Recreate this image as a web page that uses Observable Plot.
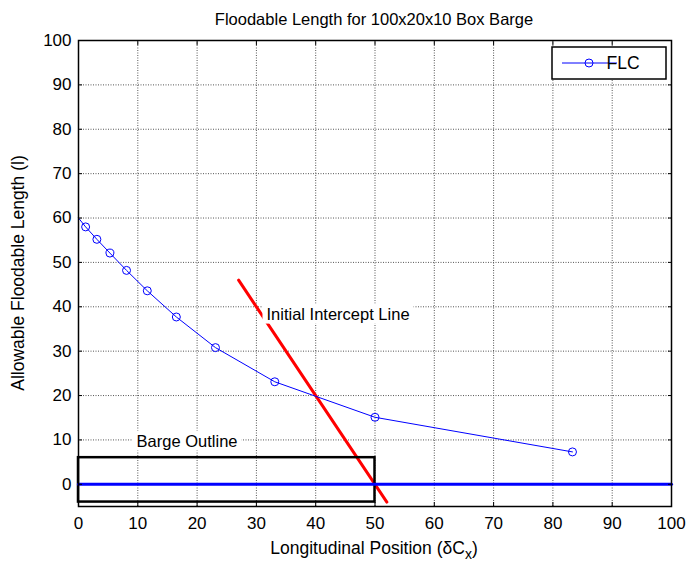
<!DOCTYPE html>
<html><head><meta charset="utf-8">
<script src="https://cdn.jsdelivr.net/npm/d3@7"></script>
<script src="https://cdn.jsdelivr.net/npm/@observablehq/plot@0.6"></script>
<style>
body{margin:0;background:#fff;}
#chart{position:relative;width:688px;height:562px;}
</style>
</head><body><div id="chart"></div>
<script>
// ---- data ----
const xTicks = [0, 10, 20, 30, 40, 50, 60, 70, 80, 90, 100];
const yTicks = [0, 10, 20, 30, 40, 50, 60, 70, 80, 90, 100];
const flcX = [0, 1.2, 3.1, 5.3, 8.1, 11.6, 16.5, 23.1, 33.1, 50, 83.3];
const flcY = [60, 58, 55.2, 52.1, 48.2, 43.6, 37.7, 30.8, 23.1, 15.1, 7.3];
const flcMarker = [false, true, true, true, true, true, true, true, true, true, true];
const interceptX = [27, 52];
const interceptY = [46, -4];
const bargeX = [0, 50];
const bargeY = [-4, 6];
const waterX = [0, 100];
const waterY = [0, 0];
const labelText = ["Initial Intercept Line", "Barge Outline"];
const labelX = [31.7, 9.8];
const labelY = [38.3, 9.7];
const seriesName = "FLC";
const titleText = "Floodable Length for 100x20x10 Box Barge";
const yLabelText = "Allowable Floodable Length (l)";

// ---- tables ----
const flc = flcX.map((x, i) => ({x, y: flcY[i], m: flcMarker[i]}));
const intercept = interceptX.map((x, i) => ({x, y: interceptY[i]}));
const water = waterX.map((x, i) => ({x, y: waterY[i]}));
const barge = [{x1: bargeX[0], x2: bargeX[1], y1: bargeY[0], y2: bargeY[1]}];
const labels = labelText.map((t, i) => ({t, x: labelX[i], y: labelY[i]}));

const font = "'Liberation Sans', Arial, sans-serif";
const gridStyle = {stroke: "#444", strokeOpacity: 0.9, strokeWidth: 1, strokeDasharray: "1,1.5"};

const chart = Plot.plot({
  width: 688, height: 562,
  marginLeft: 78, marginRight: 17, marginTop: 40, marginBottom: 56,
  style: {fontFamily: font, fontSize: "17px", color: "#000", background: "#fff"},
  x: {domain: [0, 100]},
  y: {domain: [-5, 100]},
  marks: [
    Plot.gridX(xTicks, gridStyle),
    Plot.gridY(yTicks, gridStyle),
    Plot.line(intercept, {x: "x", y: "y", stroke: "#ff0000", strokeWidth: 3}),
    Plot.line(flc, {x: "x", y: "y", stroke: "#0000ff", strokeWidth: 1}),
    Plot.dot(flc.filter(d => d.m), {x: "x", y: "y", r: 4, stroke: "#0000ff", fill: "none", strokeWidth: 1}),
    Plot.rect(barge, {x1: "x1", x2: "x2", y1: "y1", y2: "y2", stroke: "#000", strokeWidth: 2.5, fill: "none"}),
    Plot.line(water, {x: "x", y: "y", stroke: "#0000ff", strokeWidth: 3}),
    Plot.text(labels, {x: "x", y: "y", text: "t", textAnchor: "start", fill: "#000", fontSize: 16.5}),
    Plot.frame({stroke: "#000", strokeWidth: 1.5}),
    Plot.axisX(xTicks, {anchor: "bottom", tickSize: -4, tickPadding: 14, label: null, fontSize: 17}),
    Plot.axisX(xTicks, {anchor: "top", tickSize: -4, tickFormat: () => "", label: null}),
    Plot.axisY(yTicks, {anchor: "left", tickSize: -4, tickPadding: 11, label: null, fontSize: 17}),
    Plot.axisY(yTicks, {anchor: "right", tickSize: -4, tickFormat: () => "", label: null})
  ]
});
document.getElementById("chart").appendChild(chart);

const svg = d3.select(chart);
// white backgrounds behind annotation labels
svg.selectAll("text").filter(function () { return labelText.includes(this.textContent); }).each(function () {
  const b = this.getBBox();
  const t = this.getAttribute("transform");
  d3.select(this.parentNode).insert("rect", () => this)
    .attr("x", b.x - 4).attr("y", b.y - 1)
    .attr("width", b.width + 8).attr("height", b.height + 2)
    .attr("transform", t)
    .attr("fill", "#fff");
});

// title
svg.append("text").attr("x", 374).attr("y", 25).attr("text-anchor", "middle")
  .attr("font-family", font).attr("font-size", 16.5).attr("fill", "#000").text(titleText);

// x label with subscript
const xl = svg.append("text").attr("x", 374).attr("y", 554).attr("text-anchor", "middle")
  .attr("font-family", font).attr("font-size", 17.5).attr("fill", "#000");
xl.append("tspan").text("Longitudinal Position (\u03B4C");
xl.append("tspan").attr("dy", 5).attr("font-size", 14).text("x");
xl.append("tspan").attr("dy", -5).text(")");

// y label
svg.append("text").attr("transform", "translate(24,273) rotate(-90)").attr("text-anchor", "middle")
  .attr("font-family", font).attr("font-size", 17.5).attr("fill", "#000").text(yLabelText);

// legend
const lg = svg.append("g");
lg.append("rect").attr("x", 552).attr("y", 47).attr("width", 114).attr("height", 32)
  .attr("fill", "#fff").attr("stroke", "#000").attr("stroke-width", 1.5);
lg.append("line").attr("x1", 562).attr("x2", 617).attr("y1", 63).attr("y2", 63)
  .attr("stroke", "#0000ff").attr("stroke-width", 1);
lg.append("circle").attr("cx", 589).attr("cy", 63).attr("r", 4)
  .attr("stroke", "#0000ff").attr("fill", "none");
lg.append("text").attr("x", 623).attr("y", 69).attr("font-family", font).attr("font-size", 17.5)
  .attr("fill", "#000").text(seriesName);
</script></body></html>
